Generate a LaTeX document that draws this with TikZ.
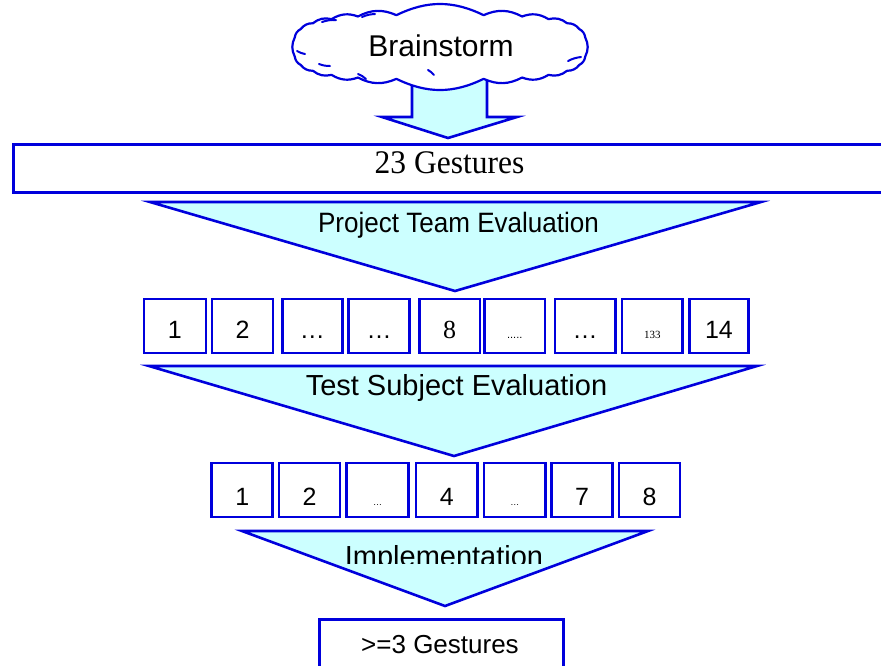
\documentclass[tikz,border=0pt]{standalone}
\usepackage{fontspec}
\setmainfont{Liberation Sans}
\newfontfamily\seriffont{Liberation Serif}
\usetikzlibrary{calc}
\definecolor{lnblue}{RGB}{0,0,220}
\definecolor{lcyan}{RGB}{204,255,255}
\newcommand\fivedots{.....}
\tikzset{
  ln/.style={draw=lnblue,line width=2.6pt,line join=miter},
  tri/.style={ln,fill=lcyan},
  gbox/.style={ln,fill=white,inner sep=0pt,minimum height=54pt},
  dig/.style={font=\fontsize{25}{25}\selectfont},
  ser/.style={font=\seriffont\fontsize{26}{26}\selectfont},
  tinys/.style={font=\fontsize{11}{11}\selectfont},
  tinyser/.style={font=\seriffont\fontsize{11}{11}\selectfont},
  tiny9/.style={font=\fontsize{9}{9}\selectfont},
  lbl/.style={inner sep=0pt,anchor=base},
  stroke/.style={draw=lnblue,line width=2pt,line cap=round}
}
\begin{document}
\begin{tikzpicture}[x=1pt,y=-1pt]
\useasboundingbox (0,0) rectangle (881,665);
\clip (0,0) rectangle (881,665);

% block arrow from cloud
\coordinate (aL) at (412,70);
\coordinate (aR) at (487,70);
\coordinate (atip) at (448,138);
\draw[tri] (aL) -- (412,117) -- (382,117) -- (atip) -- (517,117) -- (487,117) -- (aR) -- cycle;

% cloud (superellipse with small outward bumps)
\coordinate (cloud) at (440,47);
\foreach \k in {0,...,23} {
  \pgfmathsetmacro\ca{cos((\k+0.5)*15)}
  \pgfmathsetmacro\sa{sin((\k+0.5)*15)}
  \pgfmathsetmacro\cx{440+146*(\ca/abs(\ca))*pow(abs(\ca),0.6)}
  \pgfmathsetmacro\cy{47+32*(\sa/abs(\sa))*pow(abs(\sa),0.6)}
  \coordinate (cp\k) at (\cx,\cy);
}
\draw[draw=lnblue,line width=2.2pt,fill=white,line join=round]
  (cp0) \foreach \k in {1,...,23} { to[bend left=26] (cp\k) } to[bend left=26] (cp0) -- cycle;
\node[lbl,font=\fontsize{30}{30}\selectfont] (bs) at (441,56) {Brainstorm};
\draw[stroke] (322,22) to[bend left=10] (336,20);
\draw[stroke] (362,17) to[bend left=10] (375,14);
\draw[stroke] (297,51) to[bend right=10] (305,54);
\draw[stroke] (319,64) to[bend right=10] (330,66);
\draw[stroke] (358,74) to[bend left=10] (366,79);
\draw[stroke] (428,70) to[bend left=10] (434,75);
\draw[stroke] (568,61) to[bend left=10] (581,57);

% 23 Gestures
\node[ln,fill=white,minimum width=880pt,minimum height=48pt,inner sep=0pt,anchor=north west] (g23) at (12,143) {};
\node[lbl,font=\seriffont\fontsize{30}{30}\selectfont] (g23t) at (449.5,173) {\scalebox{1.05}[1.1]{23 Gestures}};

% triangle 1
\coordinate (t1a) at (150,202);
\coordinate (t1b) at (761,202);
\coordinate (t1c) at (455,291);
\draw[tri] (t1a) -- (t1b) -- (t1c) -- cycle;
\node[lbl,font=\fontsize{28}{28}\selectfont] (pte) at (458.5,232) {\scalebox{0.93}[1]{Project Team Evaluation}};

% row 1 boxes
\foreach \l/\r/\s/\t [count=\i] in {
  143.8/205.9/dig/1, 211.8/273.1/dig/2, 282.2/342.3/dig/…, 348.6/409.4/dig/…,
  419.3/479.8/ser/8, 484.5/545.0/tinys/\fivedots, 554.9/615.4/dig/…,
  622.1/682.6/tinyser/133, 689.3/748.6/dig/14} {
  \pgfmathsetmacro\w{\r-\l}
  \pgfmathsetmacro\c{(\r+\l)/2}
  \node[gbox,minimum width=\w pt] (ra\i) at (\c,326) {};
  \node[lbl,\s] (rat\i) at (\c,338) {\t};
}

% triangle 2
\coordinate (t2a) at (149,366);
\coordinate (t2b) at (757,366);
\coordinate (t2c) at (454,456);
\draw[tri] (t2a) -- (t2b) -- (t2c) -- cycle;
\node[lbl,font=\fontsize{29}{29}\selectfont] (tse) at (456.5,395) {Test Subject Evaluation};

% row 2 boxes
\foreach \l/\r/\s/\t [count=\i] in {
  211.7/272.7/dig/1, 279.0/340.0/dig/2, 346.7/408.3/tiny9/…, 416.0/477.7/dig/4,
  484.0/545.7/tiny9/…, 551.3/612.7/dig/7, 619.0/680.0/dig/8} {
  \pgfmathsetmacro\w{\r-\l}
  \pgfmathsetmacro\c{(\r+\l)/2}
  \node[gbox,minimum width=\w pt] (rb\i) at (\c,490) {};
  \node[lbl,\s] (rbt\i) at (\c,505) {\t};
}

% triangle 3
\coordinate (t3a) at (242,531);
\coordinate (t3b) at (648,531);
\coordinate (t3c) at (445,606);
\draw[tri] (t3a) -- (t3b) -- (t3c) -- cycle;
\begin{scope}
  \clip (200,520) rectangle (700,563);
  \node[lbl,font=\fontsize{29}{29}\selectfont] (impl) at (444,566) {Implementation};
\end{scope}

% final box
\node[ln,fill=white,minimum width=244pt,minimum height=54pt,inner sep=0pt,anchor=north west] (fin) at (318,618) {};
\node[lbl,font=\fontsize{26}{26}\selectfont] (fint) at (440,653) {>=3 Gestures};
\end{tikzpicture}
\end{document}
